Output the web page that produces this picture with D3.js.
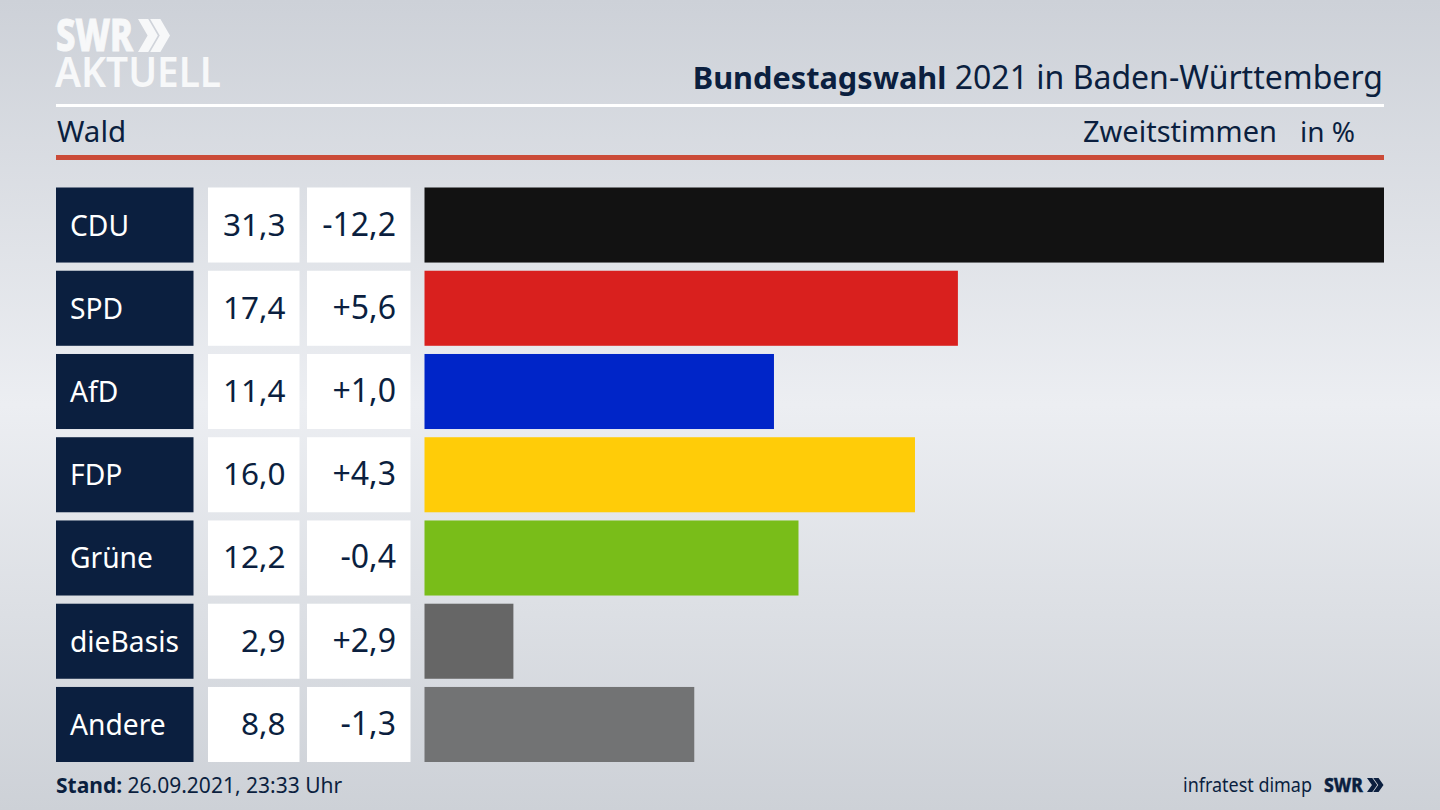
<!DOCTYPE html>
<html>
<head>
<meta charset="utf-8">
<script src="https://cdn.jsdelivr.net/npm/d3@7"></script>
<style>
html, body { margin: 0; padding: 0; background: #d5d8de; }
svg { display: block; }
text { font-family: "Noto Sans", sans-serif; }
</style>
</head>
<body>
<div id="chart"></div>
<script>
var parties = ["CDU", "SPD", "AfD", "FDP", "Grüne", "dieBasis", "Andere"];
var shares = [31.3, 17.4, 11.4, 16.0, 12.2, 2.9, 8.8];
var changes = ["-12,2", "+5,6", "+1,0", "+4,3", "-0,4", "+2,9", "-1,3"];
var barColors = ["#121212", "#d9201e", "#0025c8", "#ffcc08", "#79bd19", "#666666", "#727374"];

var width = 1440, height = 810;
var navy = "#0b1f3f";
var logoWhite = "#f7f8f9";

var svg = d3.select("#chart").append("svg")
	.attr("width", width)
	.attr("height", height);

// background
var grad = svg.append("defs").append("linearGradient")
	.attr("id", "bg").attr("x1", 0).attr("y1", 0).attr("x2", 0).attr("y2", 1);
grad.append("stop").attr("offset", "0%").attr("stop-color", "#cdd1d8");
grad.append("stop").attr("offset", "50%").attr("stop-color", "#eceef2");
grad.append("stop").attr("offset", "100%").attr("stop-color", "#cdd1d7");
svg.append("rect").attr("width", width).attr("height", height).attr("fill", "url(#bg)");

// scales
var x = d3.scaleLinear().domain([0, 31.3]).range([424.5, 1384]);
var y = d3.scaleBand().domain(parties).range([187.5, 762]).paddingInner(0.0985);
var fmt = function(v) { return v.toFixed(1).replace(".", ","); };

// the two arrows of the SWR logo
function chevrons(g, x0, y0, h, tw, color) {
	var t = tw * 0.32, w = tw * 0.3;
	[0, tw * 0.38].forEach(function(dx) {
		g.append("path")
			.attr("d", d3.line()([
				[x0 + dx, y0], [x0 + dx + t, y0], [x0 + dx + t + w, y0 + h / 2],
				[x0 + dx + t, y0 + h], [x0 + dx, y0 + h], [x0 + dx + w, y0 + h / 2]
			]) + "Z")
			.attr("fill", color);
	});
}

var logo = svg.append("g");
logo.append("text").attr("x", 56).attr("y", 51).text("SWR")
	.attr("font-size", 45).attr("font-weight", 800).attr("fill", logoWhite)
	.attr("stroke", logoWhite).attr("stroke-width", 1)
	.attr("textLength", 77).attr("lengthAdjust", "spacingAndGlyphs");
chevrons(logo, 138, 19, 33, 32, logoWhite);
logo.append("text").attr("x", 55).attr("y", 87).text("AKTUELL")
	.attr("font-size", 41).attr("font-weight", 600).attr("fill", logoWhite)
	.attr("textLength", 166).attr("lengthAdjust", "spacingAndGlyphs");

// header
var title = svg.append("text").attr("x", 1383).attr("y", 89)
	.attr("text-anchor", "end").attr("fill", navy);
title.append("tspan").attr("font-weight", 700).attr("font-size", 30.7).text("Bundestagswahl");
title.append("tspan").attr("font-size", 32).text(" 2021 in Baden-Württemberg");

svg.append("rect").attr("x", 56).attr("y", 104).attr("width", 1328).attr("height", 3).attr("fill", "#ffffff");
svg.append("rect").attr("x", 56).attr("y", 155).attr("width", 1328).attr("height", 5).attr("fill", "#cb4b38");

svg.append("text").attr("x", 57).attr("y", 142).attr("font-size", 29.5).attr("fill", navy).text("Wald");
svg.append("text").attr("x", 1277).attr("y", 142).attr("text-anchor", "end").attr("font-size", 29).attr("fill", navy).text("Zweitstimmen");
svg.append("text").attr("x", 1355).attr("y", 142).attr("text-anchor", "end").attr("font-size", 28).attr("fill", navy).text("in %");

// rows
var rows = svg.selectAll("g.row").data(parties).join("g")
	.attr("class", "row")
	.attr("transform", function(d) { return "translate(0," + y(d) + ")"; });

rows.append("rect").attr("x", 56).attr("width", 137.5).attr("height", y.bandwidth()).attr("fill", navy);
rows.append("rect").attr("x", 208).attr("width", 91.5).attr("height", y.bandwidth()).attr("fill", "#ffffff");
rows.append("rect").attr("x", 307).attr("width", 103.5).attr("height", y.bandwidth()).attr("fill", "#ffffff");
rows.append("rect")
	.attr("x", x(0))
	.attr("width", function(d, i) { return x(shares[i]) - x(0); })
	.attr("height", y.bandwidth())
	.attr("fill", function(d, i) { return barColors[i]; });

var base = y.bandwidth() / 2 + 10.5;
rows.append("text").attr("x", 70).attr("y", base).attr("font-size", 28.2).attr("fill", "#ffffff")
	.text(function(d) { return d; });
rows.append("text").attr("x", 285.5).attr("y", base).attr("text-anchor", "end").attr("font-size", 31.5).attr("fill", navy)
	.text(function(d, i) { return fmt(shares[i]); });
rows.append("text").attr("x", 396).attr("y", base).attr("text-anchor", "end").attr("font-size", 32).attr("fill", navy)
	.text(function(d, i) { return changes[i]; });

// footer
var stand = svg.append("text").attr("x", 56).attr("y", 793).attr("font-size", 21).attr("fill", navy);
stand.append("tspan").attr("font-weight", 700).text("Stand:");
stand.append("tspan").text(" 26.09.2021, 23:33 Uhr");
svg.append("text").attr("x", 1183).attr("y", 792).attr("font-size", 20).attr("fill", navy)
	.attr("textLength", 129).attr("lengthAdjust", "spacingAndGlyphs").text("infratest dimap");
svg.append("text").attr("x", 1324).attr("y", 792).attr("font-size", 20).attr("font-weight", 800).attr("fill", navy)
	.attr("stroke", navy).attr("stroke-width", 0.4)
	.attr("textLength", 39).attr("lengthAdjust", "spacingAndGlyphs").text("SWR");
chevrons(svg.append("g"), 1367, 778, 14, 16.5, navy);
</script>
</body>
</html>
